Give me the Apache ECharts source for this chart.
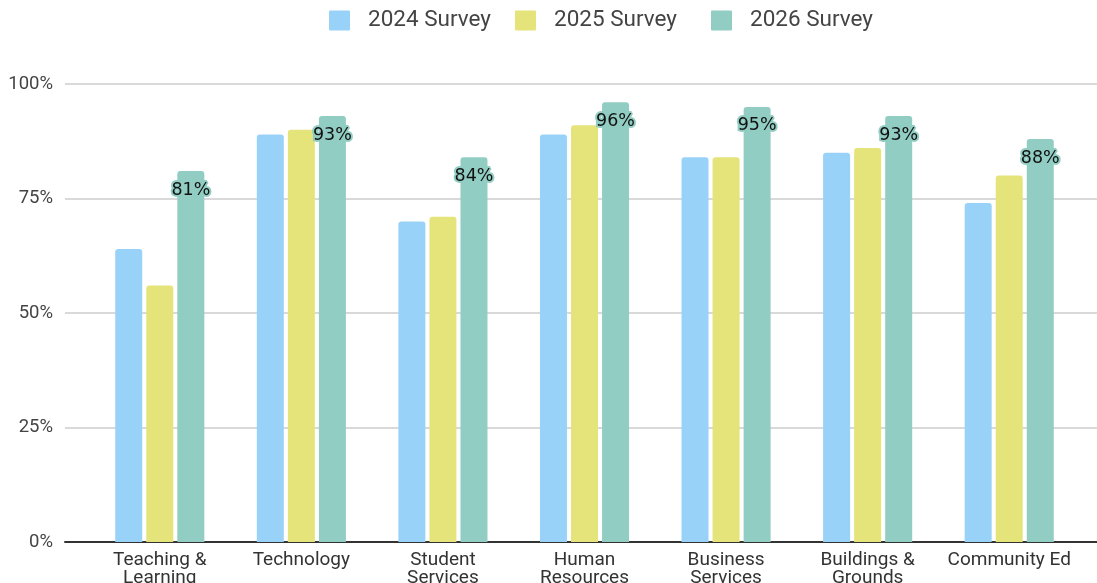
<!DOCTYPE html>
<html>
<head>
<meta charset="utf-8">
<script src="https://cdn.jsdelivr.net/npm/echarts@6/dist/echarts.min.js"></script>
<style>
  html, body { margin: 0; padding: 0; background: #fff; }
  #chart { width: 1097px; height: 583px; }
</style>
</head>
<body>
<div id="chart"></div>
<script>
const categories = ['Teaching &\nLearning', 'Technology', 'Student\nServices', 'Human\nResources', 'Business\nServices', 'Buildings &\nGrounds', 'Community Ed'];
const seriesNames = ['2024 Survey', '2025 Survey', '2026 Survey'];
const survey2024 = [64, 89, 70, 89, 84, 85, 74];
const survey2025 = [56, 90, 71, 91, 84, 86, 80];
const survey2026 = [81, 93, 84, 96, 95, 93, 88];
const yTicks = [0, 25, 50, 75, 100];
const colors = ['#99d2f8', '#e5e47a', '#91cdc3'];

const chart = echarts.init(document.getElementById('chart'), null, { renderer: 'canvas' });
const fontFamily = 'Roboto, "Noto Sans", sans-serif';

function barSeries(idx, data, withLabel) {
  return {
    name: seriesNames[idx],
    type: 'bar',
    xAxisIndex: 1,
    yAxisIndex: 1,
    data: data,
    barWidth: 27,
    barGap: '15%',
    itemStyle: { color: colors[idx], borderRadius: [3, 3, 0, 0] },
    label: withLabel ? {
      show: true,
      position: 'insideTop',
      distance: 10,
      formatter: p => p.value + '%',
      color: '#111',
      fontFamily: '"DejaVu Sans", sans-serif',
      fontSize: 17.5,
      textBorderColor: colors[idx],
      textBorderWidth: 4
    } : { show: false },
    emphasis: { disabled: true }
  };
}

// one legend entry per survey, laid out left to right
const legendLefts = [324, 510, 706];
const legends = seriesNames.map((name, i) => ({
  top: 4,
  left: legendLefts[i],
  itemWidth: 21,
  itemHeight: 20,
  icon: 'path://M1,0 H20 Q21,0 21,1 V19 Q21,20 20,20 H1 Q0,20 0,19 V1 Q0,0 1,0 Z',
  textStyle: { fontFamily, fontSize: 22.5, color: '#444', padding: [0, 0, 0, 13] },
  data: [name]
}));

chart.setOption({
  animation: false,
  backgroundColor: '#fff',
  legend: legends,
  grid: [
    { left: 65, right: 0, top: 84, bottom: 41, outerBoundsMode: 'none' },
    { left: 89, right: 17, top: 84, bottom: 41, outerBoundsMode: 'none' }
  ],
  xAxis: [
    {
      gridIndex: 0, type: 'value', min: 0, max: 1,
      axisLine: { show: true, lineStyle: { color: '#333', width: 2 } },
      axisTick: { show: false }, axisLabel: { show: false }, splitLine: { show: false }
    },
    {
      gridIndex: 1, type: 'category', data: categories,
      axisLine: { show: false }, axisTick: { show: false },
      axisLabel: { fontFamily, fontSize: 19, color: '#333', lineHeight: 18, margin: 9, interval: 0 }
    }
  ],
  yAxis: [
    {
      gridIndex: 0, type: 'value', min: yTicks[0], max: yTicks[yTicks.length - 1], interval: 25,
      axisLine: { show: false }, axisTick: { show: false },
      axisLabel: { formatter: '{value}%', fontFamily, fontSize: 18.5, color: '#444', margin: 12 },
      splitLine: { show: true, lineStyle: { color: '#cccccc', width: 1.5 } }
    },
    {
      gridIndex: 1, type: 'value', min: 0, max: 100,
      axisLine: { show: false }, axisTick: { show: false },
      axisLabel: { show: false }, splitLine: { show: false }
    }
  ],
  series: [
    barSeries(0, survey2024, false),
    barSeries(1, survey2025, false),
    barSeries(2, survey2026, true)
  ]
});
</script>
</body>
</html>
